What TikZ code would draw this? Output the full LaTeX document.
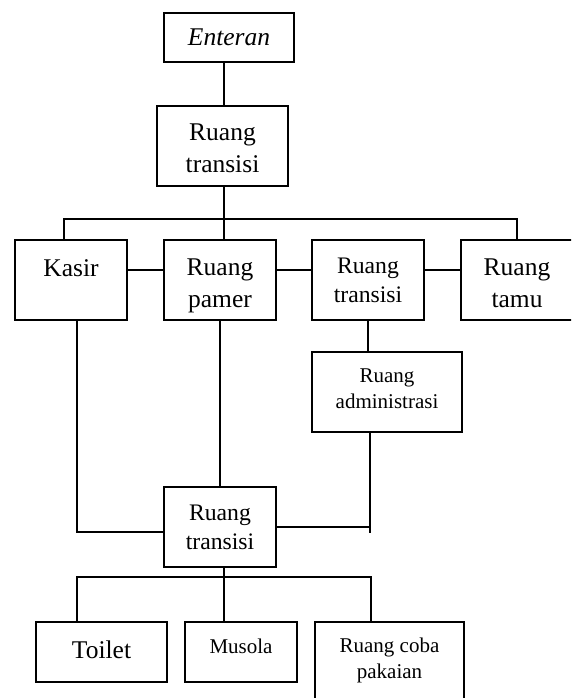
\documentclass[tikz,border=0pt]{standalone}
\usepackage{fontspec}
\setmainfont{Liberation Serif}
\tikzset{
  room/.style={draw, line width=1.5pt, inner sep=0pt, align=center, text depth=0pt},
  bigfont/.style={font=\fontsize{25.5}{32}\selectfont},
  midfont/.style={font=\fontsize{23.7}{29}\selectfont},
  smallfont/.style={font=\fontsize{21}{26}\selectfont},
  link/.style={line width=1.5pt}
}
\begin{document}
\begin{tikzpicture}[x=1pt,y=-1pt]
  \useasboundingbox (0,0) rectangle (571,698);
  \clip (0,0) rectangle (571,698);
  % upper part
  \node[room, bigfont, minimum width=130, minimum height=49] (enteran) at (229,37.5) {\itshape Enteran};
  \node[room, bigfont, minimum width=131, minimum height=80, text height=53.4pt] (trans1) at (222.5,146) {Ruang\\transisi};
  \node[room, bigfont, minimum width=112, minimum height=80] (kasir) at (71,280) {\raisebox{4pt}[0pt][0pt]{Kasir}};
  \node[room, bigfont, minimum width=112, minimum height=80, text height=54.6pt] (pamer) at (220,280) {Ruang\\pamer};
  \node[room, midfont, minimum width=112, minimum height=80] (trans2) at (368,280) {Ruang\\transisi};
  \node[room, bigfont, minimum width=112, minimum height=80, text height=54pt] (tamu) at (517,280) {Ruang\\tamu};
  \node[room, smallfont, minimum width=150, minimum height=80, text height=32.6pt] (admin) at (387,392) {Ruang\\administrasi};
  % lower part
  \node[room, midfont, minimum width=112, minimum height=80] (trans3) at (220,527) {Ruang\\transisi};
  \node[room, bigfont, minimum width=131, minimum height=60, text height=12.6pt] (toilet) at (101.5,652) {Toilet};
  \node[room, smallfont, minimum width=112, minimum height=60] (musola) at (241,652) {\raisebox{-1pt}[0pt][0pt]{Musola}};
  \node[room, smallfont, minimum width=149, minimum height=84, text depth=11.3pt] (coba) at (389.5,664) {Ruang coba\\pakaian};
  \coordinate (busL) at (64,219);
  \coordinate (busR) at (517,219);
  \coordinate (botL) at (77,577);
  \coordinate (botR) at (371,577);
  \coordinate (botM) at (224,577);
  % connectors
  \draw[link] (trans1.north -| botM) -- (enteran.south -| botM);
  \draw[link] (trans1.south -| botM) -- (pamer.north -| botM);
  \draw[link] (kasir.north -| busL) -- (busL) -- (busR) -- (tamu.north);
  \draw[link] ([yshift=10pt]kasir.east) -- ([yshift=10pt]pamer.west);
  \draw[link] ([yshift=10pt]pamer.east) -- ([yshift=10pt]trans2.west);
  \draw[link] ([yshift=10pt]trans2.east) -- ([yshift=10pt]tamu.west);
  \draw[link] (trans2.south) -- (trans2.south |- admin.north);
  \draw[link] ([xshift=6pt]kasir.south) |- ([yshift=-5pt]trans3.west);
  \draw[link] (pamer.south) -- (trans3.north);
  \draw[link] ([xshift=-17pt]admin.south) -- ++(0,100);
  \draw[link] (trans3.east) -- ++(94,0);
  \draw[link] (trans3.south -| botM) -- (musola.north -| botM);
  \draw[link] (toilet.north -| botL) -- (botL) -- (botR) -- (coba.north -| botR);
\end{tikzpicture}
\end{document}
